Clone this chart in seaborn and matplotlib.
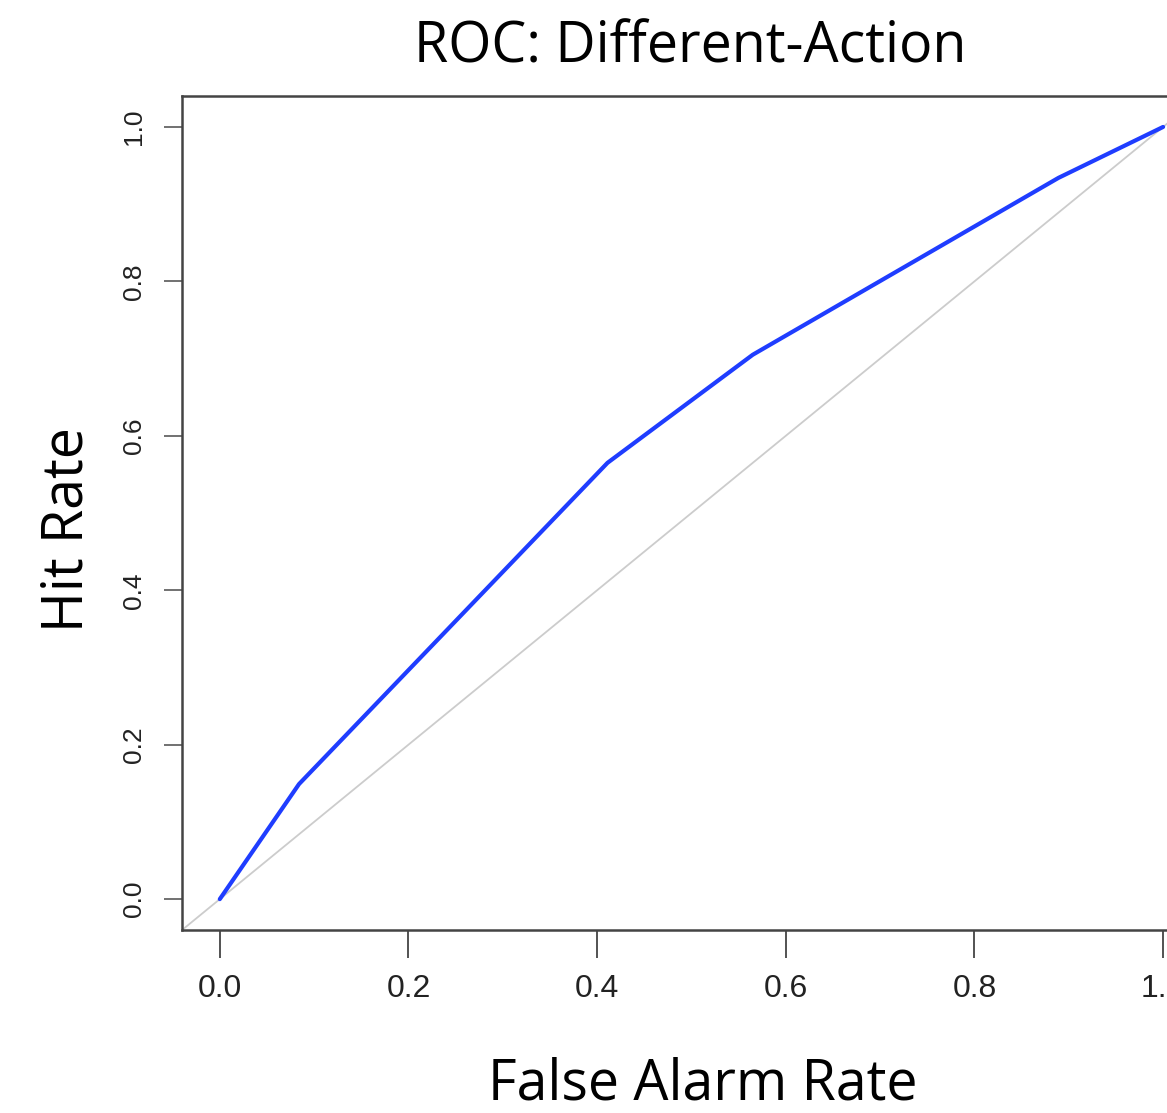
import matplotlib
matplotlib.use("Agg")
import matplotlib.pyplot as plt
import seaborn as sns
import pandas as pd

# ROC points
false_alarm = [0.0, 0.084, 0.411, 0.565, 0.889, 1.0]
hit_rate = [0.0, 0.149, 0.565, 0.705, 0.934, 1.0]
x_ticks = [0.0, 0.2, 0.4, 0.6, 0.8, 1.0]
y_ticks = [0.0, 0.2, 0.4, 0.6, 0.8, 1.0]

sns.set_theme(style="white")
plt.rcParams["font.family"] = ["Liberation Sans", "DejaVu Sans"]

df = pd.DataFrame({"far": false_alarm, "hr": hit_rate})

fig = plt.figure(figsize=(11.67, 11.13), dpi=100)
# axes extend past the right edge, like the cropped original
ax = fig.add_axes([0.156, 0.1644, 0.873, 0.7493])

ax.axline((0, 0), (1, 1), color="#cccccc", lw=1.3, zorder=1)
sns.lineplot(data=df, x="far", y="hr", sort=False, color="#1f3dff",
             lw=3.0, ax=ax, zorder=3)

ax.set_xlim(-0.04, 1.04)
ax.set_ylim(-0.04, 1.04)
ax.set_xticks(x_ticks)
ax.set_yticks(y_ticks)
ax.set_xticklabels([f"{v:.1f}" for v in x_ticks], fontsize=23)
ax.set_yticklabels([f"{v:.1f}" for v in y_ticks], rotation=90, va="center",
                   fontsize=19)
ax.tick_params(axis="x", length=20, width=1.3, color="#444444", pad=12,
               bottom=True, labelcolor="#222222")
ax.tick_params(axis="y", length=13, width=1.3, color="#666666", pad=13,
               left=True, labelcolor="#222222")

for side in ["left", "top", "bottom"]:
    ax.spines[side].set_visible(True)
    ax.spines[side].set_color("#444444")
    ax.spines[side].set_linewidth(1.8)
ax.spines["right"].set_visible(False)

ax.set_xlabel("")
ax.set_ylabel("")
fig.text(0.591, 0.957, "ROC: Different-Action", ha="center", va="center",
         fontsize=40, family=["Open Sans", "DejaVu Sans"], color="black")
fig.text(0.602, 0.025, "False Alarm Rate", ha="center", va="center",
         fontsize=40, family=["Open Sans", "DejaVu Sans"], color="black")
fig.text(0.058, 0.524, "Hit Rate", ha="center", va="center", rotation=90,
         fontsize=40, family=["Open Sans", "DejaVu Sans"], color="black")

fig.savefig("out.png", dpi=100)
